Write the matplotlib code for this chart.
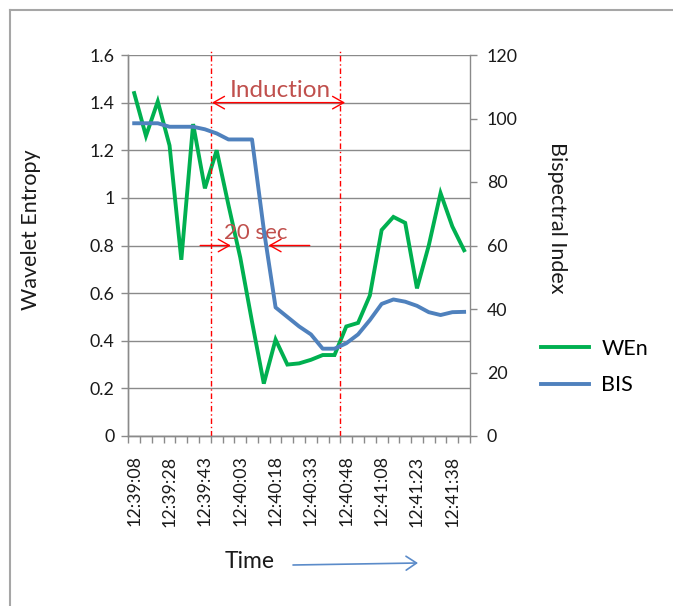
import numpy as np
import matplotlib
matplotlib.use("Agg")
import matplotlib.pyplot as plt
from matplotlib.lines import Line2D
from matplotlib.patches import FancyArrowPatch

plt.rcParams['font.family'] = ['Lato', 'DejaVu Sans']

# Wavelet entropy (left axis) and bispectral index (right axis), one value per sample
wen = [1.44, 1.26, 1.405, 1.22, 0.74, 1.31, 1.04, 1.20, 0.97, 0.75,
       0.48, 0.22, 0.405, 0.30, 0.305, 0.32, 0.34, 0.34, 0.46, 0.475,
       0.59, 0.865, 0.92, 0.895, 0.62, 0.80, 1.02, 0.88, 0.78]
bis = [98.5, 98.5, 98.5, 97.4, 97.4, 97.4, 96.6, 95.3, 93.4, 93.4,
       93.4, 65.0, 40.5, 37.5, 34.5, 32.0, 27.5, 27.5, 29.2, 32.0,
       36.5, 41.6, 43.0, 42.3, 41.0, 39.0, 38.1, 39.0, 39.1]
# every third sample carries a time label
time_labels = ["12:39:08", "12:39:28", "12:39:43", "12:40:03", "12:40:18",
               "12:40:33", "12:40:48", "12:41:08", "12:41:23", "12:41:38"]
label_step = 3

n = len(wen)
x = np.arange(n)

W, H = 673, 606
fig = plt.figure(figsize=(W / 100, H / 100), dpi=100)
fig.patch.set_facecolor('white')

left, right, top, bottom = 128.3, 470, 55, 436
ax = fig.add_axes([left / W, 1 - bottom / H, (right - left) / W, (bottom - top) / H])
ax2 = ax.twinx()

grid_c = '#8a8a8a'
green = '#00B050'
blue = '#4F81BD'
txt_c = '#1a1a1a'
fs = 12.8

ax.set_xlim(-0.5, n - 0.5)
ax.set_ylim(0, 1.6)
ax2.set_ylim(0, 120)

ax.set_yticks(np.round(np.arange(0, 1.61, 0.2), 1))
ax.set_yticklabels(['0', '0.2', '0.4', '0.6', '0.8', '1', '1.2', '1.4', '1.6'])
ax2.set_yticks(np.arange(0, 121, 20))
ax.yaxis.grid(True, color=grid_c, lw=1.0)
ax.set_axisbelow(True)

ax.set_xticks(x[::label_step])
ax.set_xticklabels(time_labels, rotation=90)
ax.set_xticks(np.arange(-0.5, n, 1), minor=True)
ax.tick_params(axis='x', which='major', length=0, pad=14, labelsize=fs, labelcolor=txt_c)
ax.tick_params(axis='x', which='minor', length=5, width=1, color=grid_c, direction='out')
ax.tick_params(axis='y', length=5, width=1, color=grid_c, direction='out', pad=5,
               labelsize=fs, labelcolor=txt_c)
ax2.tick_params(axis='y', length=5, width=1, color=grid_c, direction='out', pad=7,
                labelsize=fs, labelcolor=txt_c)

for a in (ax, ax2):
    a.spines['top'].set_visible(False)
    for s in ('left', 'right', 'bottom'):
        a.spines[s].set_color(grid_c)
        a.spines[s].set_linewidth(1.0)
ax.spines['right'].set_visible(False)

l1, = ax.plot(x, wen, color=green, lw=2.8, solid_joinstyle='miter', label='WEn', zorder=3)
l2, = ax2.plot(x, bis, color=blue, lw=2.8, solid_joinstyle='round', label='BIS', zorder=3)

# induction window markers
red = '#FF0000'
red_txt = '#C0504D'
for xv in (6.5, 17.5):
    ax.plot([xv, xv], [0, 1.618], color=red, lw=1.0, ls=(0, (4, 2, 1, 2)),
            clip_on=False, zorder=4)

arrow_kw = dict(color=red, lw=1.0, shrinkA=0, shrinkB=0)
ax.annotate('', xy=(6.6, 1.4), xytext=(17.9, 1.4),
            arrowprops=dict(arrowstyle='<->,head_length=0.8,head_width=0.45', **arrow_kw), zorder=5)
ax.text(12.37, 1.425, 'Induction', color=red_txt, fontsize=17.5, ha='center',
        va='baseline', zorder=5)

ax.annotate('', xy=(8.2, 0.8), xytext=(5.6, 0.8),
            arrowprops=dict(arrowstyle='->,head_length=0.8,head_width=0.45', **arrow_kw), zorder=5)
ax.annotate('', xy=(11.4, 0.8), xytext=(14.9, 0.8),
            arrowprops=dict(arrowstyle='->,head_length=0.8,head_width=0.45', **arrow_kw), zorder=5)
ax.text(10.34, 0.828, '20 sec', color=red_txt, fontsize=16, ha='center',
        va='baseline', zorder=5)

# axis titles
fig.text(31 / W, 1 - 230 / H, 'Wavelet Entropy', rotation=90, ha='center', va='center',
         fontsize=15.5, color=txt_c)
fig.text(557 / W, 1 - 218 / H, 'Bispectral Index', rotation=-90, ha='center', va='center',
         fontsize=15.5, color=txt_c)
fig.text(250 / W, 1 - 561 / H, 'Time', ha='center', va='center', fontsize=16.5, color=txt_c)
fig.add_artist(FancyArrowPatch(
    (293 / W, 1 - 565 / H), (418 / W, 1 - 563 / H), transform=fig.transFigure,
    arrowstyle='->,head_length=0.75,head_width=0.5', mutation_scale=10,
    color='#5B8BC9', lw=1.2, shrinkA=0, shrinkB=0))

# legend
fig.legend(handles=[l1, l2], loc='center left', bbox_to_anchor=(541 / W, 1 - 367 / H),
           frameon=False, fontsize=15.5, handlelength=2.25, handletextpad=0.55,
           labelspacing=0.75, borderpad=0, borderaxespad=0)

# outer frame
frame_c = '#A6A6A6'
fig.add_artist(Line2D([10 / W, 1.0], [1 - 10 / H, 1 - 10 / H], color=frame_c, lw=1.5,
                      transform=fig.transFigure))
fig.add_artist(Line2D([10 / W, 10 / W], [0.0, 1 - 10 / H], color=frame_c, lw=1.5,
                      transform=fig.transFigure))

fig.savefig('out.png', dpi=100, facecolor='white')
